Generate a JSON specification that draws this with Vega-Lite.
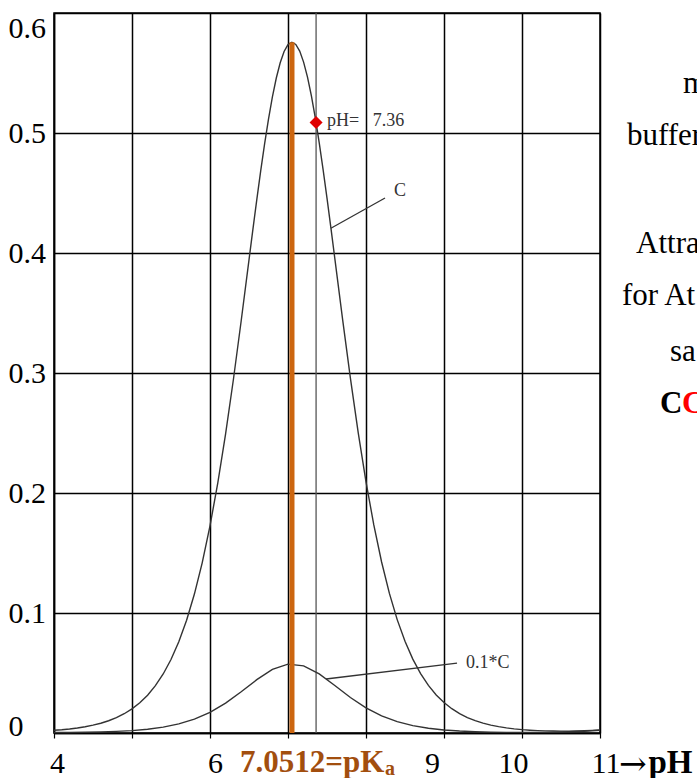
{
  "$schema": "https://vega.github.io/schema/vega-lite/v6.json",
  "width": 546,
  "height": 720,
  "autosize": "none",
  "padding": {"left": 54, "top": 13, "right": 97, "bottom": 45},
  "background": "white",
  "config": {
    "view": {"stroke": "black", "strokeWidth": 1.5},
    "font": "Liberation Serif"
  },
  "datasets": {
    "curveC": [
      {"pH": 4.0, "v": 0.00227}, {"pH": 4.1, "v": 0.00275}, {"pH": 4.2, "v": 0.00338}, {"pH": 4.3, "v": 0.00419},
      {"pH": 4.4, "v": 0.00521}, {"pH": 4.5, "v": 0.00651}, {"pH": 4.6, "v": 0.00815}, {"pH": 4.7, "v": 0.01022},
      {"pH": 4.8, "v": 0.01281}, {"pH": 4.9, "v": 0.01606}, {"pH": 5.0, "v": 0.02013}, {"pH": 5.1, "v": 0.0252},
      {"pH": 5.2, "v": 0.03154}, {"pH": 5.3, "v": 0.03942}, {"pH": 5.4, "v": 0.04919}, {"pH": 5.5, "v": 0.06123},
      {"pH": 5.6, "v": 0.076}, {"pH": 5.7, "v": 0.09401}, {"pH": 5.8, "v": 0.11578}, {"pH": 5.9, "v": 0.14183},
      {"pH": 6.0, "v": 0.17261}, {"pH": 6.1, "v": 0.2084}, {"pH": 6.2, "v": 0.2492}, {"pH": 6.3, "v": 0.29459},
      {"pH": 6.4, "v": 0.34354}, {"pH": 6.5, "v": 0.39434}, {"pH": 6.55, "v": 0.41969}, {"pH": 6.6, "v": 0.44451},
      {"pH": 6.65, "v": 0.4684}, {"pH": 6.7, "v": 0.49092}, {"pH": 6.75, "v": 0.51162}, {"pH": 6.8, "v": 0.53007},
      {"pH": 6.85, "v": 0.54583}, {"pH": 6.9, "v": 0.55855}, {"pH": 6.95, "v": 0.56791}, {"pH": 7.0, "v": 0.57365},
      {"pH": 7.05, "v": 0.57564}, {"pH": 7.1, "v": 0.57383}, {"pH": 7.15, "v": 0.56826}, {"pH": 7.2, "v": 0.55908},
      {"pH": 7.25, "v": 0.54651}, {"pH": 7.3, "v": 0.53089}, {"pH": 7.35, "v": 0.51256}, {"pH": 7.4, "v": 0.49195},
      {"pH": 7.45, "v": 0.46951}, {"pH": 7.5, "v": 0.44569}, {"pH": 7.55, "v": 0.42089}, {"pH": 7.6, "v": 0.39557},
      {"pH": 7.7, "v": 0.34475}, {"pH": 7.8, "v": 0.29573},
      {"pH": 7.9, "v": 0.25024}, {"pH": 8.0, "v": 0.20932}, {"pH": 8.1, "v": 0.17341}, {"pH": 8.2, "v": 0.14251},
      {"pH": 8.3, "v": 0.11635}, {"pH": 8.4, "v": 0.09448}, {"pH": 8.5, "v": 0.07639}, {"pH": 8.6, "v": 0.06155},
      {"pH": 8.7, "v": 0.04945}, {"pH": 8.8, "v": 0.03963}, {"pH": 8.9, "v": 0.03171}, {"pH": 9.0, "v": 0.02535},
      {"pH": 9.1, "v": 0.02025}, {"pH": 9.2, "v": 0.01616}, {"pH": 9.3, "v": 0.01289}, {"pH": 9.4, "v": 0.01028},
      {"pH": 9.5, "v": 0.0082}, {"pH": 9.6, "v": 0.00656}, {"pH": 9.7, "v": 0.00527}, {"pH": 9.8, "v": 0.00424},
      {"pH": 9.9, "v": 0.00343}, {"pH": 10.0, "v": 0.00281}, {"pH": 10.1, "v": 0.00234}, {"pH": 10.2, "v": 0.002},
      {"pH": 10.3, "v": 0.00176}, {"pH": 10.4, "v": 0.00161}, {"pH": 10.5, "v": 0.00155}, {"pH": 10.6, "v": 0.00157},
      {"pH": 10.7, "v": 0.00167}, {"pH": 10.8, "v": 0.00186}, {"pH": 10.9, "v": 0.00216}, {"pH": 11.0, "v": 0.00256}
    ],
    "curveC01": [
      {"pH": 4.0, "v": 0.00043}, {"pH": 4.2, "v": 0.00047}, {"pH": 4.4, "v": 0.0006}, {"pH": 4.6, "v": 0.00087},
      {"pH": 4.8, "v": 0.00132}, {"pH": 5.0, "v": 0.00201}, {"pH": 5.2, "v": 0.00315}, {"pH": 5.4, "v": 0.00492},
      {"pH": 5.6, "v": 0.0076}, {"pH": 5.8, "v": 0.01158}, {"pH": 6.0, "v": 0.01726}, {"pH": 6.2, "v": 0.02492},
      {"pH": 6.4, "v": 0.03435}, {"pH": 6.6, "v": 0.04445}, {"pH": 6.8, "v": 0.05301}, {"pH": 7.0, "v": 0.05737},
      {"pH": 7.2, "v": 0.05591}, {"pH": 7.4, "v": 0.0492}, {"pH": 7.6, "v": 0.03956}, {"pH": 7.8, "v": 0.02957},
      {"pH": 8.0, "v": 0.02093}, {"pH": 8.2, "v": 0.01425}, {"pH": 8.4, "v": 0.00945}, {"pH": 8.6, "v": 0.00616},
      {"pH": 8.8, "v": 0.00396}, {"pH": 9.0, "v": 0.00253}, {"pH": 9.2, "v": 0.00165}, {"pH": 9.4, "v": 0.00108},
      {"pH": 9.6, "v": 0.00074}, {"pH": 9.8, "v": 0.00056}, {"pH": 10.0, "v": 0.00049}, {"pH": 10.2, "v": 0.00053},
      {"pH": 10.4, "v": 0.00068}, {"pH": 10.6, "v": 0.00099}, {"pH": 10.8, "v": 0.00149}, {"pH": 11.0, "v": 0.00233}
    ],
    "phLine": [{"pH": 7.36, "v": 0, "v2": 0.6}],
    "pkaLine": [{"pH": 7.0512, "v": 0, "v2": 0.5756}],
    "leaders": [
      {"pH": 7.55, "v": 0.4206, "pH2": 8.244, "v2": 0.4458},
      {"pH": 7.487, "v": 0.045, "pH2": 9.167, "v2": 0.0583}
    ],
    "point": [{"pH": 7.36, "v": 0.5087, "t": "pH=\u00a0\u00a0\u00a07.36"}],
    "curveLabels": [
      {"pH": 8.244, "v": 0.4517, "t": "C"},
      {"pH": 9.167, "v": 0.0583, "t": "0.1*C"}
    ],
    "pka": [{"pH": 7.0512, "v": 0, "t": "7.0512=pK", "s": "a"}],
    "arrow": [{"pH": 11, "v": 0, "t": "→"}],
    "sideText": [
      {"pH": 12.064, "v": 0.5333, "t": "m"},
      {"pH": 11.346, "v": 0.49, "t": "buffer"},
      {"pH": 11.462, "v": 0.4, "t": "Attra"},
      {"pH": 11.282, "v": 0.3567, "t": "for At"},
      {"pH": 11.897, "v": 0.31, "t": "sa"}
    ],
    "sideCC": [{"pH": 11.769, "v": 0.2667, "t": "C"}]
  },
  "encoding": {
    "x": {
      "field": "pH",
      "type": "quantitative",
      "scale": {"domain": [4, 11], "nice": false, "zero": false},
      "axis": {
        "values": [4, 5, 6, 7, 8, 9, 10, 11],
        "grid": true,
        "gridColor": "black",
        "gridWidth": 1.5,
        "gridOpacity": 1,
        "domainColor": "black",
        "domainWidth": 1.5,
        "tickColor": "black",
        "tickSize": 5,
        "tickWidth": 1.2,
        "labelFont": "Liberation Serif",
        "labelFontSize": 30,
        "labelColor": "black",
        "labelPadding": 10,
        "labelBaseline": "top",
        "labelOverlap": false,
        "labelFlush": false,
        "labelExpr": "(datum.value == 4 || datum.value == 6 || datum.value == 9 || datum.value == 10 || datum.value == 11) ? datum.label : ''",
        "labelAlign": {"condition": {"test": "datum.value == 11", "value": "left"}, "value": "center"},
        "labelOffset": {
          "condition": [
            {"test": "datum.value == 4", "value": 3},
            {"test": "datum.value == 6", "value": 5},
            {"test": "datum.value == 9", "value": -12},
            {"test": "datum.value == 10", "value": -9},
            {"test": "datum.value == 11", "value": -9}
          ],
          "value": 0
        },
        "title": "pH",
        "titleFont": "Liberation Serif",
        "titleFontSize": 33,
        "titleFontWeight": "bold",
        "titleColor": "black",
        "titleX": 594,
        "titleY": 39,
        "titleAlign": "left",
        "titleBaseline": "alphabetic"
      }
    },
    "y": {
      "field": "v",
      "type": "quantitative",
      "scale": {"domain": [0, 0.6], "nice": false, "zero": false},
      "axis": {
        "values": [0, 0.1, 0.2, 0.3, 0.4, 0.5, 0.6],
        "format": ".1~f",
        "grid": true,
        "gridColor": "black",
        "gridWidth": 1.5,
        "gridOpacity": 1,
        "domainColor": "black",
        "domainWidth": 1.5,
        "ticks": false,
        "tickSize": 0,
        "labelFont": "Liberation Serif",
        "labelFontSize": 30,
        "labelColor": "black",
        "labelAlign": "left",
        "labelBaseline": "middle",
        "labelPadding": 46,
        "labelFlush": false,
        "labelOverlap": false,
        "labelOffset": {
          "condition": [
            {"test": "datum.value > 0.55", "value": 15},
            {"test": "datum.value < 0.05", "value": -7}
          ],
          "value": 0
        },
        "title": null
      }
    }
  },
  "layer": [
    {
      "data": {"name": "phLine"},
      "mark": {"type": "rule", "color": "#555555", "strokeWidth": 1.3},
      "encoding": {"y2": {"field": "v2"}}
    },
    {
      "data": {"name": "curveC"},
      "mark": {"type": "line", "color": "#333333", "strokeWidth": 1.4}
    },
    {
      "data": {"name": "curveC01"},
      "mark": {"type": "line", "color": "#333333", "strokeWidth": 1.4}
    },
    {
      "data": {"name": "pkaLine"},
      "mark": {"type": "rule", "color": "#CC6610", "strokeWidth": 5},
      "encoding": {"y2": {"field": "v2"}}
    },
    {
      "data": {"name": "leaders"},
      "mark": {"type": "rule", "color": "#333333", "strokeWidth": 1.3},
      "encoding": {"x2": {"field": "pH2"}, "y2": {"field": "v2"}}
    },
    {
      "data": {"name": "point"},
      "mark": {"type": "point", "shape": "diamond", "filled": true, "size": 170, "color": "#E00000", "opacity": 1}
    },
    {
      "data": {"name": "point"},
      "mark": {"type": "text", "align": "left", "baseline": "middle", "dx": 11, "dy": -2, "fontSize": 18, "font": "Liberation Serif", "color": "#333333"},
      "encoding": {"text": {"field": "t"}}
    },
    {
      "data": {"name": "curveLabels"},
      "mark": {"type": "text", "align": "left", "baseline": "middle", "dx": 9, "fontSize": 18, "font": "Liberation Serif", "color": "#333333"},
      "encoding": {"text": {"field": "t"}}
    },
    {
      "data": {"name": "pka"},
      "mark": {"type": "text", "align": "left", "baseline": "alphabetic", "dx": -52, "dy": 39, "fontSize": 31, "fontWeight": "bold", "font": "Liberation Serif", "color": "#A24E0E"},
      "encoding": {"text": {"field": "t"}}
    },
    {
      "data": {"name": "pka"},
      "mark": {"type": "text", "align": "left", "baseline": "alphabetic", "dx": 93, "dy": 42, "fontSize": 20, "fontWeight": "bold", "font": "Liberation Serif", "color": "#A24E0E"},
      "encoding": {"text": {"field": "s"}}
    },
    {
      "data": {"name": "arrow"},
      "mark": {"type": "text", "align": "left", "baseline": "alphabetic", "dx": 19, "dy": 42, "fontSize": 33, "font": "DejaVu Serif", "color": "black"},
      "encoding": {"text": {"field": "t"}}
    },
    {
      "data": {"name": "sideText"},
      "mark": {"type": "text", "align": "left", "baseline": "alphabetic", "fontSize": 31, "font": "Liberation Serif", "color": "black"},
      "encoding": {"text": {"field": "t"}}
    },
    {
      "data": {"name": "sideCC"},
      "mark": {"type": "text", "align": "left", "baseline": "alphabetic", "fontSize": 31, "fontWeight": "bold", "font": "Liberation Serif", "color": "black"},
      "encoding": {"text": {"field": "t"}}
    },
    {
      "data": {"name": "sideCC"},
      "mark": {"type": "text", "align": "left", "baseline": "alphabetic", "dx": 22, "fontSize": 31, "fontWeight": "bold", "font": "Liberation Serif", "color": "#FF0000"},
      "encoding": {"text": {"field": "t"}}
    }
  ]
}
